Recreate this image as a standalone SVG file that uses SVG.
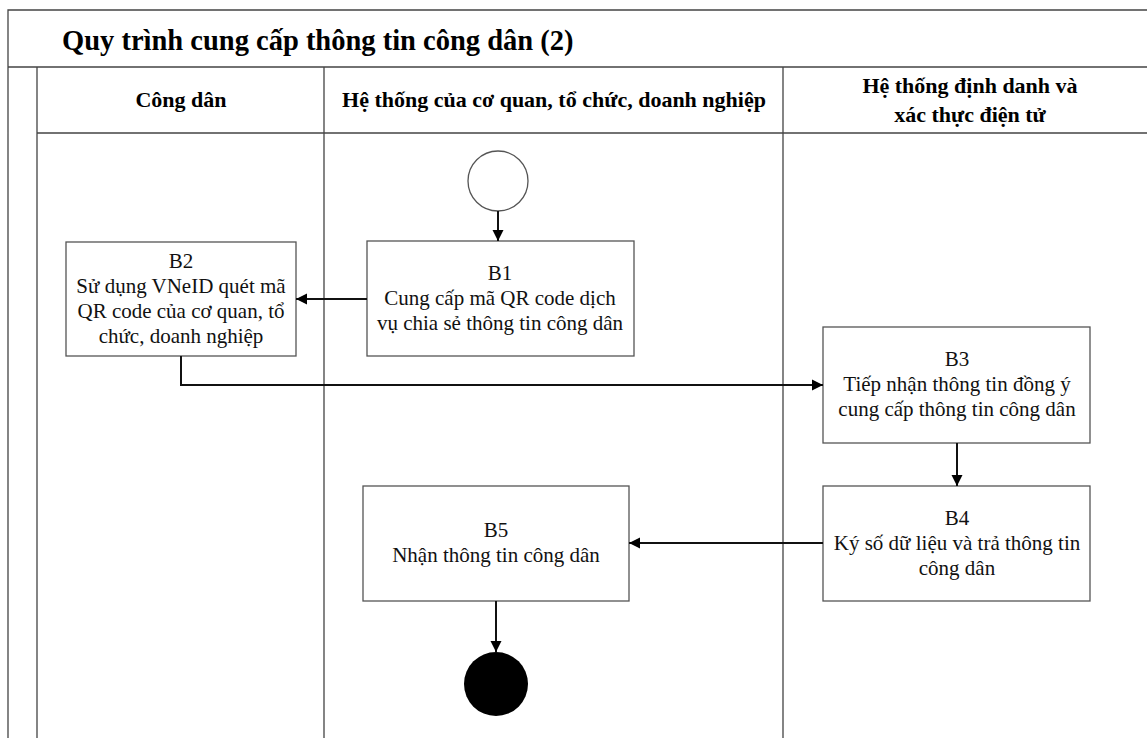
<svg xmlns="http://www.w3.org/2000/svg" width="1147" height="738" viewBox="0 0 1147 738">
<style>
.frame{fill:none;stroke:#444;stroke-width:1.3}
.box{fill:#fff;stroke:#555;stroke-width:1.3}
.t{font-family:"Liberation Serif","Times New Roman",serif;font-size:21px;fill:#111;text-anchor:middle}
.h{font-family:"Liberation Serif","Times New Roman",serif;font-size:22px;font-weight:bold;fill:#000;text-anchor:middle}
.title{font-family:"Liberation Serif","Times New Roman",serif;font-size:28.5px;font-weight:bold;fill:#000}
.c{fill:none;stroke:#111;stroke-width:2}
</style>
<defs>
<marker id="ah" markerWidth="12" markerHeight="12" refX="11" refY="6" orient="auto" markerUnits="userSpaceOnUse">
<path d="M0,0.5 L11,6 L0,11.5 Z" fill="#000"/>
</marker>
</defs>
<rect width="1147" height="738" fill="#fff"/>
<g id="frame">
<path class="frame" d="M1147,10 H8 V738 M8,67 H1147 M37,67 V738 M37,133 H1147 M324,67 V738 M783,67 V738"/>
<text class="title" x="62" y="50">Quy trình cung cấp thông tin công dân (2)</text>
<text class="h" x="181" y="107">Công dân</text>
<text class="h" x="554" y="107">Hệ thống của cơ quan, tổ chức, doanh nghiệp</text>
<text class="h" x="970" y="93">Hệ thống định danh và</text>
<text class="h" x="970" y="122">xác thực điện tử</text>
</g>
<g id="start"><circle cx="498" cy="181" r="30" fill="#fff" stroke="#555" stroke-width="1.3"/></g>
<g id="B1"><rect class="box" x="367" y="241" width="267" height="115"/>
<text class="t" x="500" y="280">B1</text>
<text class="t" x="500" y="305">Cung cấp mã QR code dịch</text>
<text class="t" x="500" y="330">vụ chia sẻ thông tin công dân</text></g>
<g id="B2"><rect class="box" x="66" y="242" width="230" height="114"/>
<text class="t" x="181" y="268">B2</text>
<text class="t" x="181" y="293">Sử dụng VNeID quét mã</text>
<text class="t" x="181" y="318">QR code của cơ quan, tổ</text>
<text class="t" x="181" y="343">chức, doanh nghiệp</text></g>
<g id="B3"><rect class="box" x="823" y="327" width="267" height="116"/>
<text class="t" x="957" y="366">B3</text>
<text class="t" x="957" y="391">Tiếp nhận thông tin đồng ý</text>
<text class="t" x="957" y="416">cung cấp thông tin công dân</text></g>
<g id="B4"><rect class="box" x="823" y="486" width="267" height="115"/>
<text class="t" x="957" y="525">B4</text>
<text class="t" x="957" y="550">Ký số dữ liệu và trả thông tin</text>
<text class="t" x="957" y="575">công dân</text></g>
<g id="B5"><rect class="box" x="363" y="486" width="266" height="115"/>
<text class="t" x="496" y="537">B5</text>
<text class="t" x="496" y="562">Nhận thông tin công dân</text></g>
<g id="end"><circle cx="496" cy="684" r="32" fill="#000"/></g>
<g id="connectors">
<path class="c" d="M498,211 V241" marker-end="url(#ah)"/>
<path class="c" d="M367,299 H296" marker-end="url(#ah)"/>
<path class="c" d="M181,356 V385 H823" marker-end="url(#ah)"/>
<path class="c" d="M957,443 V486" marker-end="url(#ah)"/>
<path class="c" d="M823,543 H629" marker-end="url(#ah)"/>
<path class="c" d="M496,601 V652" marker-end="url(#ah)"/>
</g>
</svg>
